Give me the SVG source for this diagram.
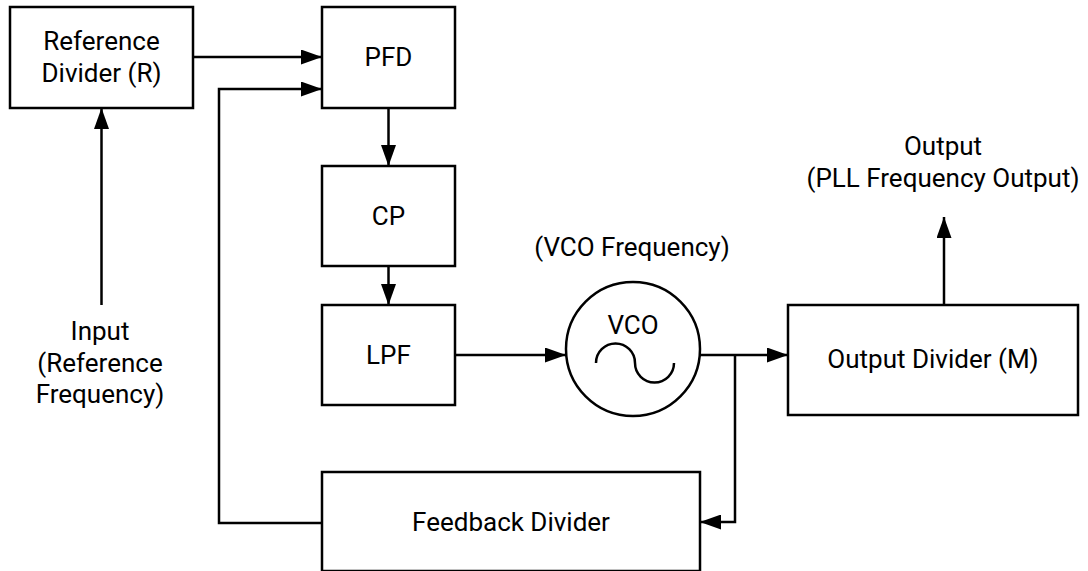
<svg xmlns="http://www.w3.org/2000/svg" width="1088" height="571" viewBox="0 0 1088 571">
<defs>
<style>
.box{fill:#fff;stroke:#000;stroke-width:2.5}
.ln{fill:none;stroke:#000;stroke-width:2.5}
.t{font-family:Roboto,"Liberation Sans",sans-serif;font-size:26px;fill:#000;text-anchor:middle}
</style>
<marker id="ah" markerWidth="21" markerHeight="15" refX="21" refY="7.5" orient="auto" markerUnits="userSpaceOnUse">
<path d="M0,0 L21,7.5 L0,15 Z" fill="#000"/>
</marker>
</defs>
<rect width="1088" height="571" fill="#fff"/>
<g id="connectors">
<path class="ln" d="M193,57 H322" marker-end="url(#ah)"/>
<path class="ln" d="M322,523 H219 V89 H322" marker-end="url(#ah)"/>
<path class="ln" d="M101.5,305 V108" marker-end="url(#ah)"/>
<path class="ln" d="M388.5,108 V166" marker-end="url(#ah)"/>
<path class="ln" d="M388.5,266 V305" marker-end="url(#ah)"/>
<path class="ln" d="M455,355 H566" marker-end="url(#ah)"/>
<path class="ln" d="M700,355 H788" marker-end="url(#ah)"/>
<path class="ln" d="M735,355 V522 H700" marker-end="url(#ah)"/>
<path class="ln" d="M944,305 V217" marker-end="url(#ah)"/>
</g>
<g id="refdiv">
<rect class="box" x="10" y="7" width="183" height="101"/>
<text class="t" x="101.5" y="50">Reference</text>
<text class="t" x="101.5" y="82">Divider (R)</text>
</g>
<g id="pfd">
<rect class="box" x="322" y="7" width="133" height="101"/>
<text class="t" x="388.5" y="66">PFD</text>
</g>
<g id="cp">
<rect class="box" x="322" y="166" width="133" height="100"/>
<text class="t" x="388.5" y="225">CP</text>
</g>
<g id="lpf">
<rect class="box" x="322" y="305" width="133" height="100"/>
<text class="t" x="388.5" y="364">LPF</text>
</g>
<g id="vco">
<circle class="box" cx="633" cy="349" r="67"/>
<text class="t" x="633" y="334">VCO</text>
<path class="ln" d="M596,363 A19.5,19.5 0 0 1 635,363 A19.5,19.5 0 0 0 674,363"/>
</g>
<g id="vcofreq">
<text class="t" x="632" y="256">(VCO Frequency)</text>
</g>
<g id="outdiv">
<rect class="box" x="788" y="305" width="290" height="110"/>
<text class="t" x="933" y="368">Output Divider (M)</text>
</g>
<g id="output">
<text class="t" x="943" y="155">Output</text>
<text class="t" x="943" y="187">(PLL Frequency Output)</text>
</g>
<g id="input">
<text class="t" x="100" y="340">Input</text>
<text class="t" x="100" y="372">(Reference</text>
<text class="t" x="100" y="403">Frequency)</text>
</g>
<g id="fbdiv">
<rect class="box" x="322" y="472" width="378" height="99"/>
<text class="t" x="511" y="531">Feedback Divider</text>
</g>
</svg>
